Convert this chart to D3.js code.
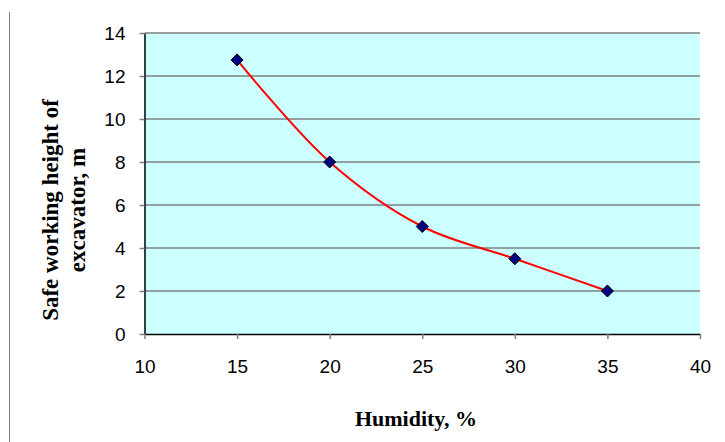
<!DOCTYPE html>
<html>
<head>
<meta charset="utf-8">
<script src="https://cdn.jsdelivr.net/npm/d3@7"></script>
<style>
html,body{margin:0;padding:0;background:#fff;}
svg{display:block;}
</style>
</head>
<body>
<svg id="chart" width="725" height="442"></svg>
<script>
const humidity = [15, 20, 25, 30, 35];
const safeHeight = [12.75, 8, 5, 3.5, 2];
const xTicks = [10, 15, 20, 25, 30, 35, 40];
const yTicks = [0, 2, 4, 6, 8, 10, 12, 14];
const xTitle = "Humidity, %";
const yTitleLines = ["Safe working height of", "excavator, m"];

const svg = d3.select("#chart");
const pLeft = 144.5, pRight = 700, pTop = 33, pBottom = 334;
const x = d3.scaleLinear().domain([10, 40]).range([pLeft, pRight]);
const y = d3.scaleLinear().domain([0, 14]).range([pBottom, pTop]);

// left frame line
svg.append("line").attr("x1", 9.5).attr("x2", 9.5).attr("y1", 12).attr("y2", 442)
  .attr("stroke", "#808080").attr("stroke-width", 1);

// plot background
svg.append("rect").attr("x", pLeft).attr("y", pTop)
  .attr("width", pRight - pLeft).attr("height", pBottom - pTop)
  .attr("fill", "#CCFFFF");

// gridlines
svg.append("g").selectAll("line").data(yTicks.filter(d => d > 0)).join("line")
  .attr("x1", pLeft).attr("x2", pRight)
  .attr("y1", d => y(d)).attr("y2", d => y(d))
  .attr("stroke", "#808080").attr("stroke-width", 1.5);

// y axis
const yAxis = svg.append("g").attr("transform", `translate(${pLeft},0)`)
  .call(d3.axisLeft(y).tickValues(yTicks).tickSize(5).tickPadding(14).tickSizeOuter(0));
yAxis.select(".domain").attr("stroke", "#000").attr("stroke-width", 1.5);
yAxis.selectAll(".tick line").attr("stroke", "#808080").attr("stroke-width", 1.5);
yAxis.selectAll(".tick text").attr("font-family", "Liberation Sans, Arial, sans-serif")
  .attr("font-size", 19).attr("fill", "#000");

// x axis
const xAxis = svg.append("g").attr("transform", `translate(0,${pBottom})`)
  .call(d3.axisBottom(x).tickValues(xTicks).tickSize(5).tickPadding(21).tickSizeOuter(0));
xAxis.select(".domain").attr("stroke", "#000").attr("stroke-width", 1.5);
xAxis.selectAll(".tick line").attr("stroke", "#808080").attr("stroke-width", 1.5);
xAxis.selectAll(".tick text").attr("font-family", "Liberation Sans, Arial, sans-serif")
  .attr("font-size", 19).attr("fill", "#000");

// smoothed line
const pts = humidity.map((h, i) => [h, safeHeight[i]]);
const line = d3.line().x(d => x(d[0])).y(d => y(d[1])).curve(d3.curveCatmullRom.alpha(0.5));
svg.append("path").datum(pts).attr("d", line)
  .attr("fill", "none").attr("stroke", "#FF0000").attr("stroke-width", 2);

// markers
svg.append("g").selectAll("path").data(pts).join("path")
  .attr("transform", d => `translate(${x(d[0])},${y(d[1])})`)
  .attr("d", "M0,-6L6,0L0,6L-6,0Z")
  .attr("fill", "#000080").attr("stroke", "#000").attr("stroke-width", 1);

// x title
svg.append("text").attr("x", 416).attr("y", 426).attr("text-anchor", "middle")
  .attr("font-family", "Liberation Serif, Times New Roman, serif").attr("font-weight", "bold")
  .attr("font-size", 22).text(xTitle);

// y title
const yt = svg.append("text").attr("transform", "translate(0,210) rotate(-90)")
  .attr("text-anchor", "middle")
  .attr("font-family", "Liberation Serif, Times New Roman, serif").attr("font-weight", "bold")
  .attr("font-size", 23);
yTitleLines.forEach((t, i) => {
  yt.append("tspan").attr("x", 0).attr("y", 58 + i * 27).text(t);
});
</script>
</body>
</html>
